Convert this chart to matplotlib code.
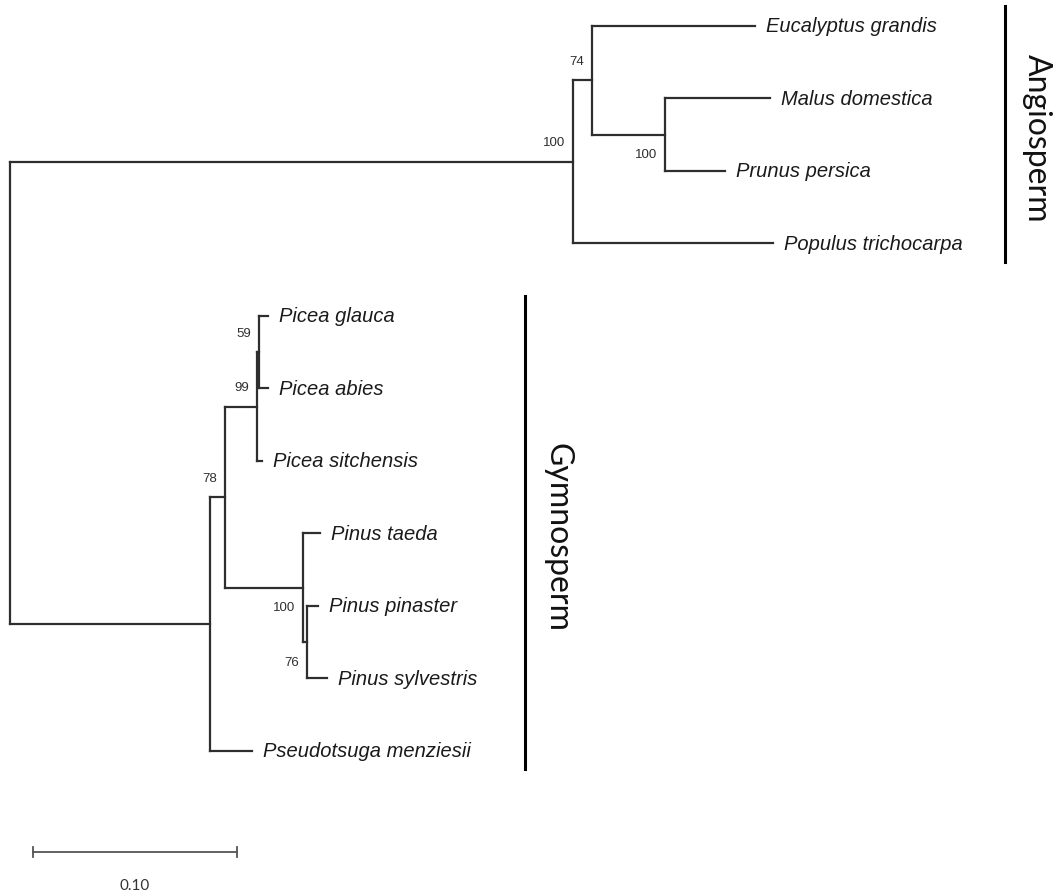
import matplotlib
matplotlib.use("Agg")
import matplotlib.pyplot as plt

# taxa, top to bottom
taxa = ["Eucalyptus grandis", "Malus domestica", "Prunus persica", "Populus trichocarpa",
        "Picea glauca", "Picea abies", "Picea sitchensis", "Pinus taeda",
        "Pinus pinaster", "Pinus sylvestris", "Pseudotsuga menziesii"]

# (parent, child, branch length)
edges = [
    ("root", "angio", 0.2760),
    ("angio", "n74", 0.0093),
    ("n74", "Eucalyptus grandis", 0.0799),
    ("n74", "nMP", 0.0358),
    ("nMP", "Malus domestica", 0.0515),
    ("nMP", "Prunus persica", 0.0294),
    ("angio", "Populus trichocarpa", 0.0980),
    ("root", "gymno", 0.0980),
    ("gymno", "n78", 0.0074),
    ("n78", "n99", 0.0157),
    ("n99", "nGA", 0.0010),
    ("nGA", "Picea glauca", 0.0044),
    ("nGA", "Picea abies", 0.0044),
    ("n99", "Picea sitchensis", 0.0025),
    ("n78", "n100", 0.0382),
    ("n100", "Pinus taeda", 0.0083),
    ("n100", "n76", 0.0020),
    ("n76", "Pinus pinaster", 0.0054),
    ("n76", "Pinus sylvestris", 0.0098),
    ("gymno", "Pseudotsuga menziesii", 0.0206),
]

# bootstrap support and whether label goes above (+1) or below (-1) the node
support = {"angio": 100, "n74": 74, "nMP": 100, "n78": 78,
           "n99": 99, "nGA": 59, "n100": 100, "n76": 76}
support_side = {"angio": 1, "n74": 1, "nMP": -1, "n78": 1,
                "n99": 1, "nGA": 1, "n100": -1, "n76": -1}

clades = [("Angiosperm", "Eucalyptus grandis", "Populus trichocarpa"),
          ("Gymnosperm", "Picea glauca", "Pseudotsuga menziesii")]
scale_len = 0.10

# ---- layout
children = {}
for p, c, l in edges:
    children.setdefault(p, []).append((c, l))

xpos, ypos = {"root": 0.0}, {}

def place(node):
    for c, l in children.get(node, []):
        xpos[c] = xpos[node] + l
        place(c)
    if node in taxa:
        ypos[node] = taxa.index(node)
    else:
        ys = [ypos[c] for c, _ in children[node]]
        ypos[node] = (ys[0] + ys[-1]) / 2

place("root")

px_unit = 2040.0   # pixels per unit
px_tip = 72.5      # pixels between tips
fig = plt.figure(figsize=(10.58, 8.95), dpi=100)
ax = fig.add_axes([0, 0, 1, 1])
ax.set_xlim(-10 / px_unit, 1048 / px_unit)
ax.set_ylim(868 / px_tip, -27 / px_tip)
ax.axis("off")

lc = "#2e2e2e"
for node, kids in children.items():
    ys = [ypos[c] for c, _ in kids]
    ax.plot([xpos[node], xpos[node]], [min(ys), max(ys)], color=lc, lw=1.6,
            solid_capstyle="projecting")
    for c, _ in kids:
        ax.plot([xpos[node], xpos[c]], [ypos[c], ypos[c]], color=lc, lw=1.6,
                solid_capstyle="projecting")

for t in taxa:
    ax.text(xpos[t] + 11 / px_unit, ypos[t], t, fontsize=14.5, style="italic",
            family="Liberation Sans", color="#1a1a1a", va="center", ha="left")

for n, v in support.items():
    ax.text(xpos[n] - 8 / px_unit, ypos[n] - support_side[n] * 0.27, str(v),
            fontsize=9.5, family="Liberation Sans", color="#2e2e2e",
            ha="right", va="center")

# clade bars
clade_x = {"Angiosperm": 995 / px_unit, "Gymnosperm": 515 / px_unit}
for name, first, last in clades:
    x = clade_x[name]
    y0, y1 = taxa.index(first) - 0.27, taxa.index(last) + 0.25
    ax.plot([x, x], [y0, y1], color="black", lw=2.2)
    ax.text(x + 32 / px_unit, (y0 + y1) / 2 + 0.05, name, rotation=-90, fontsize=23,
            family="Lato", color="#111111", ha="center", va="center")

# scale bar
sx = 23 / px_unit
sy = len(taxa) - 1 + 1.39
ax.plot([sx, sx + scale_len], [sy, sy], color="#555555", lw=1.3)
for x in (sx, sx + scale_len):
    ax.plot([x, x], [sy - 0.07, sy + 0.07], color="#555555", lw=1.3)
ax.text(sx + scale_len / 2, sy + 0.46, f"{scale_len:.2f}", fontsize=11,
        family="Lato", color="#333333", ha="center", va="center")

fig.savefig("out.png", dpi=100, facecolor="white")
